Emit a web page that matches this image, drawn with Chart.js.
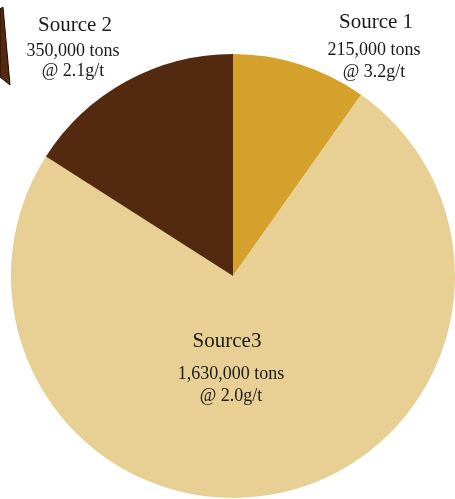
<!DOCTYPE html>
<html>
<head>
<meta charset="utf-8">
<script src="https://cdn.jsdelivr.net/npm/chart.js@4/dist/chart.umd.min.js"></script>
<style>
  html, body { margin: 0; padding: 0; background: #ffffff; }
  #wrap { width: 455px; height: 499px; position: relative; }
</style>
</head>
<body>
<div id="wrap"><canvas id="c" width="455" height="499"></canvas></div>
<script>
// ---- data ----
const categories = ["Source 1", "Source3", "Source 2"];
const tonnages = [215000, 1630000, 350000];
const grades = ["3.2g/t", "2.0g/t", "2.1g/t"];
const sliceColors = ["#D4A22C", "#E8D095", "#532A10"];

function fmt(n) { return n.toLocaleString("en-US"); }

// label anchors (text layout only)
const labelLayout = [
  { x: 374, titleX: 376, y: [28, 55, 77] },
  { x: 231, titleX: 227, y: [347, 379, 401] },
  { x: 73,  titleX: 75,  y: [31, 56, 76] }
];

const labelPlugin = {
  id: "sliceLabels",
  afterDraw(chart) {
    const ctx = chart.ctx;
    ctx.save();
    // decorative wedge at top-left edge
    ctx.beginPath();
    ctx.moveTo(0, 9); ctx.lineTo(3, 7); ctx.lineTo(10, 85); ctx.lineTo(0, 77);
    ctx.closePath();
    ctx.fillStyle = "#532A10"; ctx.fill();
    ctx.lineWidth = 1; ctx.strokeStyle = "#1a0d05"; ctx.stroke();

    ctx.fillStyle = "#1a1a1a";
    ctx.textAlign = "center";
    ctx.textBaseline = "alphabetic";
    chart.data.labels.forEach((lab, i) => {
      const L = labelLayout[i];
      ctx.font = "21px 'Liberation Serif', serif";
      ctx.fillText(lab, L.titleX, L.y[0]);
      ctx.font = "18px 'Liberation Serif', serif";
      ctx.fillText(fmt(chart.data.datasets[0].data[i]) + " tons", L.x, L.y[1]);
      ctx.fillText("@ " + grades[i], L.x, L.y[2]);
    });
    ctx.restore();
  }
};

new Chart(document.getElementById("c"), {
  type: "pie",
  data: {
    labels: categories,
    datasets: [{
      data: tonnages,
      backgroundColor: sliceColors,
      borderWidth: 0
    }]
  },
  options: {
    responsive: false,
    animation: false,
    layout: { padding: { left: 11, right: 0, top: 54, bottom: 1 } },
    plugins: {
      legend: { display: false },
      tooltip: { enabled: false },
      title: { display: false }
    }
  },
  plugins: [labelPlugin]
});
</script>
</body>
</html>
